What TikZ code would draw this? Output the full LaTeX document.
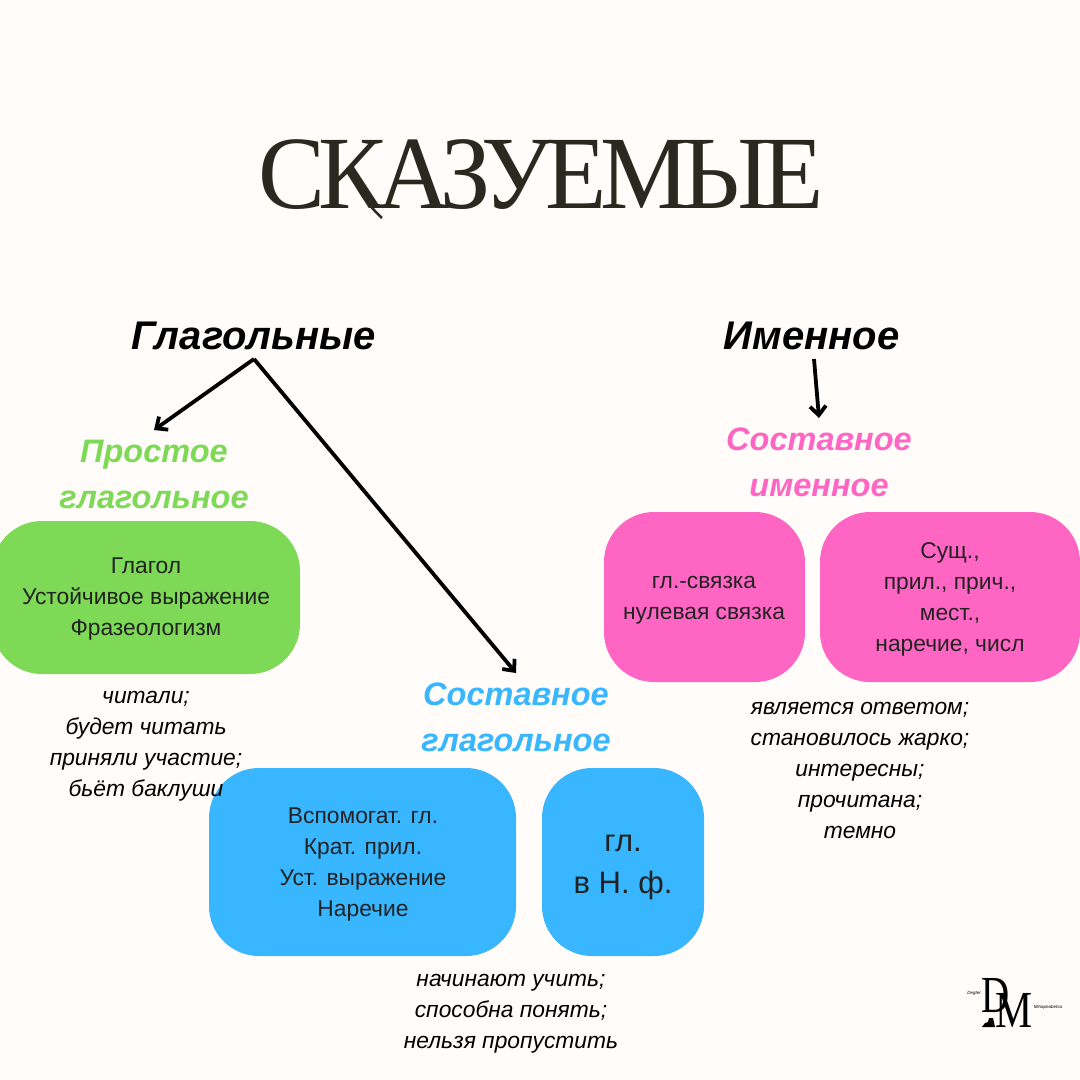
\documentclass[tikz,border=0pt]{standalone}
\usepackage{fontspec}
\usepackage{graphicx}
\setmainfont{Liberation Sans}
\newfontfamily\titlefont[LetterSpace=-7]{Liberation Serif}
\newfontfamily\logofont{Liberation Serif}
\usetikzlibrary{arrows.meta}
\definecolor{bgc}{HTML}{FFFCF9}
\definecolor{gr}{HTML}{7ED957}
\definecolor{bl}{HTML}{38B6FF}
\definecolor{pk}{HTML}{FF66C4}
\definecolor{ink}{HTML}{222222}
\definecolor{ttl}{HTML}{2B2820}
\tikzset{
  x=1pt,y=-1pt,
  headb/.style={font=\bfseries\itshape\fontsize{40}{44}\selectfont,text=black,inner sep=0pt,anchor=south,text height=31pt,text depth=9pt},
  subh/.style={font=\bfseries\itshape\fontsize{32.5}{46}\selectfont,inner xsep=0pt,inner ysep=10pt,anchor=north,align=center,text width=300pt},
  box/.style={rounded corners=50pt},
  body/.style={font=\fontsize{22.8}{31}\selectfont,text=ink,inner sep=0pt,align=center},
  ex/.style={font=\itshape\fontsize{22.8}{31}\selectfont,text=black,inner sep=0pt,align=center},
  arr/.style={-{Straight Barb[length=9pt,width=16pt,line width=3.8pt]},line width=3.8pt},
  logol/.style={font=\logofont\fontsize{52}{52}\selectfont,text=black,inner sep=0pt},
  logos/.style={font=\itshape\fontsize{4.5}{5}\selectfont,text=black,inner sep=0pt}
}
\begin{document}
\begin{tikzpicture}
\useasboundingbox (0,0) rectangle (1080,1080);
\fill[bgc] (0,0) rectangle (1080,1080);
\node[font=\titlefont\fontsize{104}{104}\selectfont,text=ttl,inner sep=0pt] (title) at (541,175) {\scalebox{0.965}[1]{СКАЗУЕМЫЕ}};
\draw[ttl,line width=2.5pt] (350,170) .. controls (357,190) and (368,205) .. (382,218);
\node[headb] (glag) at (254,359) {Глагольные};
\node[headb] (imen) at (811.5,359) {Именное};
\node[subh,text=gr] (prost) at (154,430) {Простое\\глагольное};
\node[subh,text=bl] (sostg) at (516,673) {Составное\\глагольное};
\node[subh,text=pk] (sosti) at (819,418) {Составное\\именное};
\draw[arr] (glag.south) -- (prost.north);
\draw[arr] (glag.south) -- (sostg.north);
\draw[arr] ([xshift=2.5pt]imen.south) -- (sosti.north);
\fill[gr,box] (-8,521) rectangle (300,674);
\fill[bl,box] (209,768) rectangle (516,956);
\fill[bl,box] (542,768) rectangle (704,956);
\fill[pk,box] (604,512) rectangle (805,682);
\fill[pk,box] (820,512) rectangle (1080,682);
\node[body] (b1) at (146,599) {Глагол\\Устойчивое выражение\\Фразеологизм};
\node[body] (b2) at (363,865) {Вспомогат. гл.\\Крат. прил.\\Уст. выражение\\Наречие};
\node[body,font=\fontsize{31}{42}\selectfont] (b3) at (623,868) {гл.\\в Н. ф.};
\node[body] (b4) at (704,600) {гл.-связка\\нулевая связка};
\node[body] (b5) at (950,599) {Сущ.,\\прил., прич.,\\мест.,\\наречие, числ};
\node[ex] (e1) at (146,746) {читали;\\будет читать\\приняли участие;\\бьёт баклуши};
\node[ex] (e2) at (511,1014) {начинают учить;\\способна понять;\\нельзя пропустить};
\node[ex] (e3) at (860,770) {является ответом;\\становилось жарко;\\интересны;\\прочитана;\\темно};
\node[logol] (ld) at (996,996) {\scalebox{0.75}[1]{D}};
\node[logol] (lm) at (1013.5,1010) {\scalebox{0.8}[1]{M}};
\node[logos] (ls1) at (974,993) {Degter};
\node[logos] (ls2) at (1048,1007) {Minapeabetsa};
\fill[black] (982,1027) -- (985,1023) -- (988,1022) -- (989,1018) -- (993,1018) -- (995,1027) -- cycle;
\end{tikzpicture}
\end{document}
